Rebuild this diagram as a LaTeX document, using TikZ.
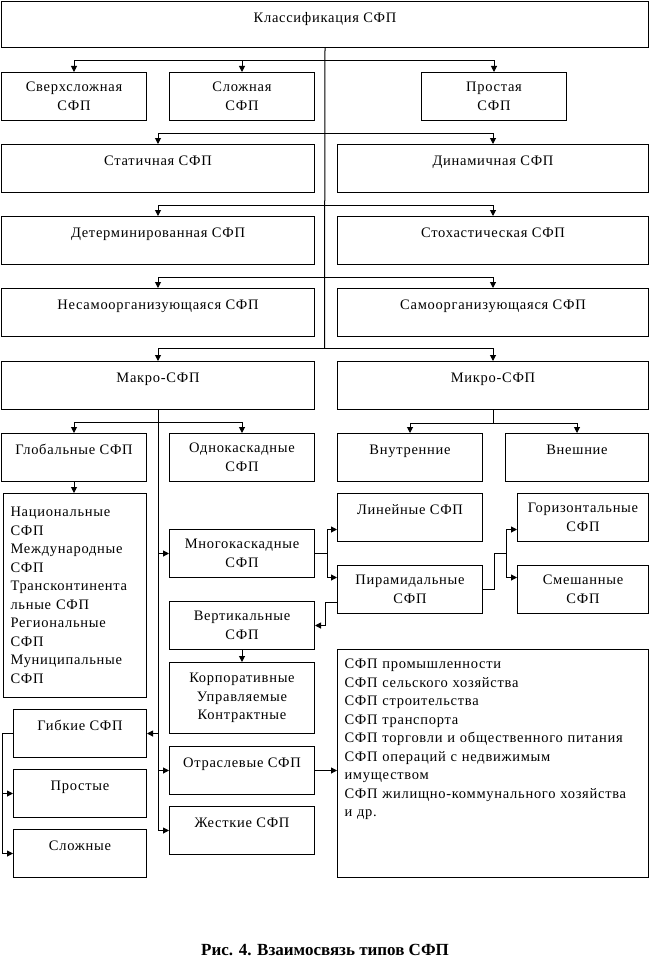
\documentclass[tikz,border=0pt]{standalone}
\usepackage{fontspec}
\setmainfont{Liberation Serif}
\newfontfamily\boxfont{Liberation Serif}[LetterSpace=5]
\usetikzlibrary{arrows.meta}

\begin{document}
\begin{tikzpicture}[
    x=1pt, y=-1pt,
    >={Triangle[length=6pt,width=6pt]},
    line width=1pt,
    box/.style={draw=black, rectangle, anchor=north west, inner sep=0pt, align=center,
        font=\boxfont\fontsize{14.5}{18.5}\selectfont},
    oneline/.style={text height=11pt, text depth=18pt},
    small/.style={minimum width=145pt, minimum height=48pt},
    wide/.style={minimum width=313pt, minimum height=48pt},
    listbox/.style={box, align=left, inner xsep=7pt},
    caption/.style={font=\bfseries\fontsize{17}{20}\selectfont}
]
    \useasboundingbox (0,0) rectangle (650,974);

    % top levels
    \node[box, oneline, minimum width=647pt, minimum height=46pt, text depth=14pt] (clas) at (1,1) {Классификация СФП};
    \node[box, small] (sverh) at (1,72) {Сверхсложная\\СФП};
    \node[box, small] (slozh) at (169,72) {Сложная\\СФП};
    \node[box, small] (prost) at (421,72) {Простая\\СФП};
    \node[box, wide, oneline] (stat) at (1,144) {Статичная СФП};
    \node[box, wide, oneline, minimum width=311pt] (dyn) at (337,144) {Динамичная СФП};
    \node[box, wide, oneline] (det) at (1,216) {Детерминированная СФП};
    \node[box, wide, oneline, minimum width=311pt] (stoh) at (337,216) {Стохастическая СФП};
    \node[box, wide, oneline] (nesam) at (1,288) {Несамоорганизующаяся СФП};
    \node[box, wide, oneline, minimum width=311pt] (sam) at (337,288) {Самоорганизующаяся СФП};
    \node[box, wide, oneline] (makro) at (1,361) {Макро-СФП};
    \node[box, wide, oneline, minimum width=311pt] (mikro) at (337,361) {Микро-СФП};

    \coordinate (j1) at (324.5,61);
    \coordinate (j2) at (324.5,133);
    \coordinate (j3) at (324.5,205);
    \coordinate (j4) at (324.5,277);
    \coordinate (j5) at (324.5,348);
    \draw (clas.south) -- (j5);
    \draw[->] (j1) -| (sverh);
    \draw[->] (j1) -| (slozh);
    \draw[->] (j1) -| (prost);
    \draw[->] (j2) -| (stat);
    \draw[->] (j2) -| (dyn);
    \draw[->] (j3) -| (det);
    \draw[->] (j3) -| (stoh);
    \draw[->] (j4) -| (nesam);
    \draw[->] (j4) -| (sam);
    \draw[->] (j5) -| (makro);
    \draw[->] (j5) -| (mikro);

    % macro branch
    \node[box, small, oneline] (glob) at (1,433) {Глобальные СФП};
    \node[box, small] (odno) at (169,433) {Однокаскадные\\СФП};
    \node[listbox, minimum width=143pt, minimum height=204pt, text width=129pt] (nac) at (3,493)
        {Национальные\\СФП\\Международные\\СФП\\Трансконтинента\\льные СФП\\Региональные\\СФП\\Муниципальные\\СФП};
    \node[box, small] (mnogo) at (169,529) {Многокаскадные\\СФП};
    \node[box, small] (vert) at (169,601) {Вертикальные\\СФП};
    \node[box, minimum width=145pt, minimum height=71pt] (korp) at (169,662) {Корпоративные\\Управляемые\\Контрактные};
    \node[box, small, oneline] (otr) at (169,746) {Отраслевые СФП};
    \node[box, small, oneline] (zhest) at (169,806) {Жесткие СФП};
    \node[box, oneline, minimum width=133pt, minimum height=48pt] (gib) at (13,709) {Гибкие СФП};
    \node[box, oneline, minimum width=133pt, minimum height=48pt] (prostye) at (13,769) {Простые};
    \node[box, oneline, minimum width=133pt, minimum height=48pt] (slozhnye) at (13,829) {Сложные};

    \coordinate (jmk) at (157.5,422);
    \draw[->] (makro.south) |- (zhest.west);
    \draw[->] (jmk) -| (glob);
    \draw[->] (jmk) -| (odno);
    \draw[->] (glob.south) -- (glob.south |- nac.north);
    \draw[->] (mnogo.west -| makro.south) -- (mnogo.west);
    \draw[->] (gib.east -| makro.south) -- (gib.east);
    \draw[->] (otr.west -| makro.south) -- (otr.west);
    \draw[->] (vert.south) -- (korp.north);
    \draw[->] (gib.west) -- ++(-11,0) |- (prostye.west);
    \draw[->] (gib.west) -- ++(-11,0) |- (slozhnye.west);

    % micro branch
    \node[box, small, oneline] (vnutr) at (337,433) {Внутренние};
    \node[box, oneline, minimum width=143pt, minimum height=48pt] (vnesh) at (505,433) {Внешние};
    \node[box, small, oneline] (lin) at (337,493) {Линейные СФП};
    \node[box, small] (pir) at (337,565) {Пирамидальные\\СФП};
    \node[box, minimum width=131pt, minimum height=48pt] (gor) at (517,493) {Горизонтальные\\СФП};
    \node[box, minimum width=131pt, minimum height=48pt] (smesh) at (517,565) {Смешанные\\СФП};
    \node[listbox, minimum width=311pt, minimum height=228pt, text width=297pt, text height=12pt, text depth=202pt] (otrlist) at (337,649)
        {СФП промышленности\\СФП сельского хозяйства\\СФП строительства\\СФП транспорта\\СФП торговли и общественного питания\\СФП операций с недвижимым\\имуществом\\СФП жилищно-коммунального хозяйства\\и др.};

    \draw (mikro.south) -- ++(0,13) coordinate (jmi);
    \draw[->] (jmi) -| (vnutr);
    \draw[->] (jmi) -| (vnesh);
    \draw[->] (mnogo.east) -- ++(12,0) |- ([yshift=-12pt]lin.west);
    \draw[->] (mnogo.east) -- ++(12,0) |- ([yshift=12pt]pir.west);
    \draw[->] ([yshift=-13pt]pir.west) -- ++(-12,0) |- (vert.east);
    \draw[->] (pir.east) -- ++(11,0) |- ++(12,-36) |- ([yshift=-12pt]gor.west);
    \draw[->] (pir.east) -- ++(11,0) |- ++(12,-36) |- ([yshift=12pt]smesh.west);
    \draw[->] (otr.east) -- (otr.east -| otrlist.west);

    \node[caption] (cap) at (325,950) {Рис. 4. Взаимосвязь типов СФП};
\end{tikzpicture}
\end{document}
